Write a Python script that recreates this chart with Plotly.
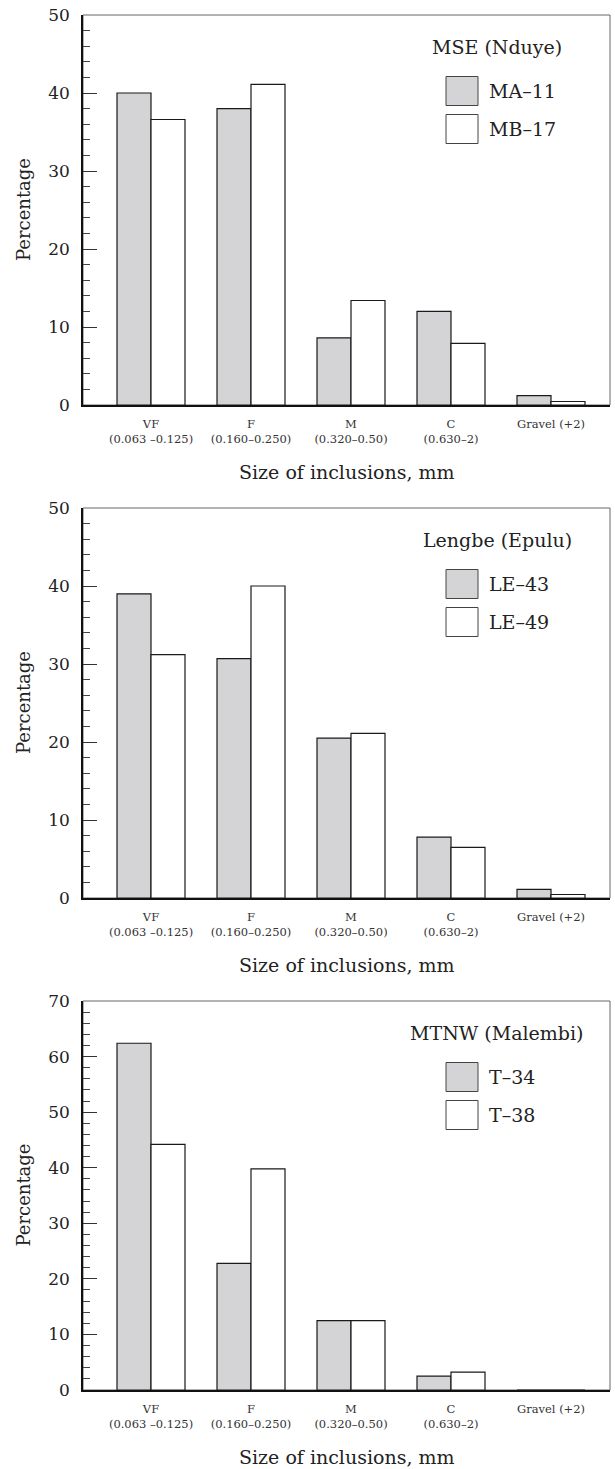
import plotly.graph_objects as go

categories = ["VF", "F", "M", "C", "Gravel"]
tick_labels = ["VF<br>(0.063 \u20130.125)", "F<br>(0.160\u20130.250)", "M<br>(0.320\u20130.50)",
               "C<br>(0.630\u20132)", "Gravel (+2)"]

panel_titles = ["MSE (Nduye)", "Lengbe (Epulu)", "MTNW (Malembi)"]
series_names = [["MA\u201311", "MB\u201317"], ["LE\u201343", "LE\u201349"], ["T\u201334", "T\u201338"]]

ma11 = [40.0, 38.0, 8.6, 12.0, 1.2]
mb17 = [36.6, 41.1, 13.4, 7.9, 0.45]
le43 = [39.0, 30.7, 20.5, 7.8, 1.1]
le49 = [31.2, 40.0, 21.1, 6.5, 0.45]
t34 = [62.4, 22.8, 12.5, 2.5, 0.0]
t38 = [44.2, 39.8, 12.5, 3.2, 0.0]

panel_data = [(ma11, mb17), (le43, le49), (t34, t38)]
y_max = [50, 50, 70]

FONT = "DejaVu Serif"
GREY = "#d4d4d6"
EDGE = "#1a1a1a"
TXT = "#222222"

W, H = 615, 1469
top_m, bot_m, left_m, right_m = 15, 79, 83, 5
plot_h = H - top_m - bot_m
# panel pixel extents (top, bottom) in page coords
panel_px = [(15, 405), (508, 898), (1001, 1390)]

fig = go.Figure()
x_pos = list(range(len(categories)))

for i, (a, b) in enumerate(panel_data):
    n = "" if i == 0 else str(i + 1)
    fig.add_trace(go.Bar(x=x_pos, y=a, name=series_names[i][0], marker=dict(color=GREY, line=dict(color=EDGE, width=1.2)),
                         xaxis="x" + n, yaxis="y" + n, showlegend=False))
    fig.add_trace(go.Bar(x=x_pos, y=b, name=series_names[i][1], marker=dict(color="white", line=dict(color=EDGE, width=1.2)),
                         xaxis="x" + n, yaxis="y" + n, showlegend=False))

layout = dict(
    width=W, height=H,
    margin=dict(l=left_m, r=right_m, t=top_m, b=bot_m),
    paper_bgcolor="white", plot_bgcolor="white",
    barmode="group", bargap=0.32, bargroupgap=0.0,
    font=dict(family=FONT, color=TXT),
    showlegend=False,
)

shapes = []
annotations = []
for i in range(3):
    n = "" if i == 0 else str(i + 1)
    t, b = panel_px[i]
    d0 = 1 - (b - top_m) / plot_h
    d1 = 1 - (t - top_m) / plot_h
    layout["xaxis" + n] = dict(
        domain=[0, 1], anchor="y" + n, range=[-0.68, 4.59],
        tickvals=x_pos, ticktext=tick_labels, ticks="outside", ticklen=7, tickcolor="rgba(0,0,0,0)",
        tickfont=dict(family=FONT, size=11.5, color="#333333"),
        showline=True, linecolor="#111111", linewidth=1.5, showgrid=False, zeroline=False,
        fixedrange=True,
    )
    layout["yaxis" + n] = dict(
        domain=[d0, d1], anchor="x" + n, range=[0, y_max[i]], dtick=10,
        ticks="inside", ticklen=14, tickwidth=1, tickcolor="#333333",
        minor=dict(dtick=2, ticks="inside", ticklen=7, tickwidth=1, tickcolor="#444444"),
        tickfont=dict(family=FONT, size=17, color=TXT), ticklabelstandoff=8,
        showline=True, linecolor="#111111", linewidth=1.5, showgrid=False, zeroline=False,
        fixedrange=True,
    )
    # frame (top and right edges)
    shapes.append(dict(type="rect", xref="x" + n + " domain", yref="y" + n + " domain",
                       x0=0, x1=1, y0=0, y1=1, line=dict(color="#666666", width=1), layer="below"))
    # legend boxes
    for k, (fill, cy) in enumerate([(GREY, 76), ("white", 114)]):
        shapes.append(dict(type="rect", xref="x" + n + " domain", yref="y" + n + " domain",
                           xsizemode="pixel", ysizemode="pixel", xanchor=0, yanchor=1,
                           x0=363, x1=395, y0=-(cy + 14.5), y1=-(cy - 14.5),
                           fillcolor=fill, line=dict(color="#444444", width=1)))
        annotations.append(dict(text=series_names[i][k], xref="x" + n + " domain", yref="y" + n + " domain",
                                x=0, y=1, xshift=404, yshift=-cy, xanchor="left", yanchor="middle",
                                showarrow=False, font=dict(family=FONT, size=19, color=TXT)))
    annotations.append(dict(text=panel_titles[i], xref="x" + n + " domain", yref="y" + n + " domain",
                            x=0, y=1, xshift=414, yshift=-32, xanchor="center", yanchor="middle",
                            showarrow=False, font=dict(family=FONT, size=19, color=TXT)))
    annotations.append(dict(text="Size of inclusions, mm", xref="x" + n + " domain", yref="y" + n + " domain",
                            x=0.5, y=0, yshift=-67, xanchor="center", yanchor="middle",
                            showarrow=False, font=dict(family=FONT, size=19, color=TXT)))
    annotations.append(dict(text="Percentage", xref="x" + n + " domain", yref="y" + n + " domain",
                            x=0, y=0.5, xshift=-60, xanchor="center", yanchor="middle", textangle=-90,
                            showarrow=False, font=dict(family=FONT, size=18, color=TXT)))

layout["shapes"] = shapes
layout["annotations"] = annotations
fig.update_layout(**layout)
fig.write_html("out.html")
